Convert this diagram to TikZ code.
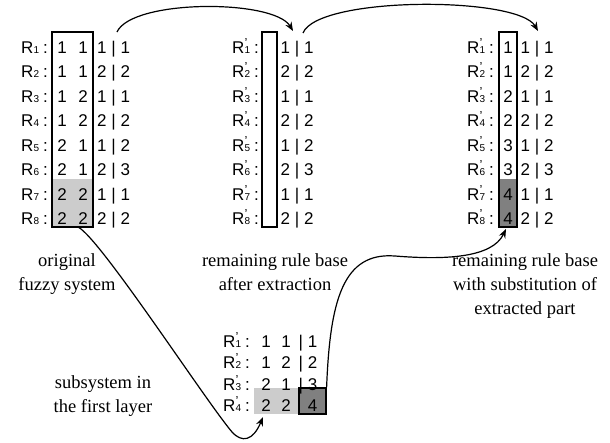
\documentclass[tikz,border=0pt]{standalone}
\usepackage{fontspec}
\setmainfont{Liberation Sans}
\newfontfamily\labserif{Liberation Serif}
\usetikzlibrary{arrows.meta}
\definecolor{lightg}{gray}{0.80}
\definecolor{darkg}{gray}{0.50}
\newcommand{\sbn}[1]{{\fontsize{10pt}{10pt}\selectfont #1}}
\newcommand{\rlab}[1]{R\sbn{#1}\hspace{4pt}:}
\newcommand{\rplab}[1]{R\rlap{\raisebox{6pt}{\fontsize{13pt}{13pt}\selectfont '}}\sbn{#1}\hspace{4pt}:}
\tikzset{
  txt/.style={inner sep=0pt, anchor=base, font=\fontsize{17pt}{17pt}\selectfont},
  lab/.style={inner sep=0pt, anchor=base, font=\labserif\fontsize{18.5pt}{18.5pt}\selectfont},
  box/.style={draw=black, line width=1.2pt, inner sep=0pt},
  conn/.style={line width=1.2pt, -{Stealth[length=9pt,width=7pt]}},
}
\begin{document}
\begin{tikzpicture}[x=1pt,y=-1pt]
\useasboundingbox (0,0) rectangle (610,442);
% fills
\fill[lightg] (52,179) rectangle (93,227);
\fill[darkg] (499,179) rectangle (517,227);
\fill[lightg] (254,388) rectangle (299,414);
% boxes
\node[box, minimum width=41pt, minimum height=195pt] (lbox) at (72.5,129.5) {};
\node[box, minimum width=15pt, minimum height=195pt] (mbox) at (269.5,129.5) {};
\node[box, minimum width=18pt, minimum height=195pt] (rbox) at (508,129.5) {};
\node[box, fill=darkg, minimum width=27pt, minimum height=26pt] (dbox) at (312.5,401) {};
% main tables
\foreach \i/\a/\b/\c/\d/\e in {1/1/1/1/1/1, 2/1/1/2/2/1, 3/1/2/1/1/2, 4/1/2/2/2/2, 5/2/1/1/2/3, 6/2/1/2/3/3, 7/2/2/1/1/4, 8/2/2/2/2/4} {
  \pgfmathsetmacro\yy{53+24.57*(\i-1)}
  \node[txt, anchor=base east] (L\i) at (48,\yy) {\rlab{\i}};
  \node[txt] (La\i) at (62,\yy) {\a};
  \node[txt] (Lb\i) at (83,\yy) {\b};
  \node[txt, anchor=base west] (Lc\i) at (97,\yy) {\c\ |\ \d};
  \node[txt, anchor=base east] (M\i) at (259,\yy) {\rplab{\i}};
  \node[txt, anchor=base west] (Mc\i) at (280.5,\yy) {\c\ |\ \d};
  \node[txt, anchor=base east] (R\i) at (494,\yy) {\rplab{\i}};
  \node[txt] (Ra\i) at (508,\yy) {\e};
  \node[txt, anchor=base west] (Rc\i) at (520.5,\yy) {\c\ |\ \d};
}
% subsystem
\foreach \i/\a/\b/\c in {1/1/1/1, 2/1/2/2, 3/2/1/3} {
  \pgfmathsetmacro\yy{347+21.5*(\i-1)}
  \node[txt, anchor=base east] (S\i) at (250,\yy) {\rplab{\i}};
  \node[txt] (Sa\i) at (266,\yy) {\a};
  \node[txt] (Sb\i) at (286,\yy) {\b};
  \node[txt, anchor=base west] (Sc\i) at (298.5,\yy) {|\ \c};
}
\node[txt, anchor=base east] (S4) at (250,411.5) {\rplab{4}};
\node[txt] (Sa4) at (266,411.5) {2};
\node[txt] (Sb4) at (286,411.5) {2};
\node[txt] (Sc4) at (312.5,411.5) {4};
% labels
\node[lab] (o1) at (67,266) {original};
\node[lab] (o2) at (67,290) {fuzzy system};
\node[lab] (m1) at (275,266) {remaining rule base};
\node[lab] (m2) at (275,290) {after extraction};
\node[lab] (r1) at (525,266) {remaining rule base};
\node[lab] (r2) at (525,290) {with substitution of};
\node[lab] (r3) at (525,314) {extracted part};
\node[lab] (s1) at (103,388) {subsystem in};
\node[lab] (s2) at (103,412) {the first layer};
% connectors
\coordinate (a1s) at (117,32);
\coordinate (a1e) at (293,31);
\coordinate (a2s) at (303,33);
\coordinate (a2e) at (538,31);
\coordinate (a3s) at (78,227);
\coordinate (a3e) at (263,417);
\coordinate (a4s) at (dbox.north east);
\coordinate (a4e) at (506,229);
\draw[conn] (a1s) .. controls (132,-1) and (274,-1) .. (a1e);
\draw[conn] (a2s) .. controls (318,-4) and (518,-4) .. (a2e);
\draw[conn] (a3s) .. controls (100,238) and (205,400) .. (232,432) .. controls (242,443) and (253,441) .. (a3e);
\draw[conn] (a4s) .. controls (330,300) and (343,252) .. (395,256) .. controls (445,260) and (492,258) .. (a4e);
\end{tikzpicture}
\end{document}
